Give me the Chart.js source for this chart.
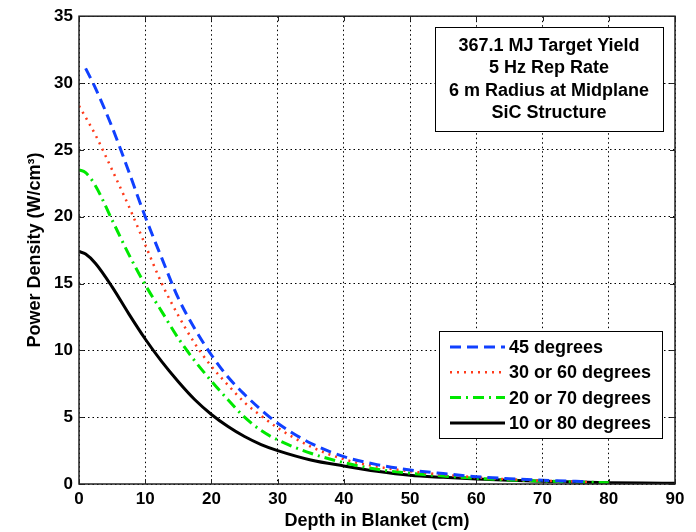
<!DOCTYPE html>
<html>
<head>
<meta charset="utf-8">
<script src="https://cdn.jsdelivr.net/npm/chart.js@4.4.1/dist/chart.umd.min.js"></script>
<style>
  html, body { margin: 0; padding: 0; background: #fff; }
  #wrap { width: 696px; height: 532px; }
</style>
</head>
<body>
<div id="wrap"><canvas id="powerChart" width="696" height="532"></canvas></div>
<script>
// ============================
// DATA
// ============================

const depth45 = [1, 2.5, 5, 7.5, 10, 12.5, 15, 17.5, 20, 22.5, 25, 27.5, 30, 35, 40, 45, 50, 55, 60, 65, 70, 75, 77];
const power45 = [31.1, 29.6, 26.7, 23.4, 20.0, 16.9, 13.9, 11.6, 9.65, 8.0, 6.7, 5.55, 4.55, 3.05, 2.05, 1.45, 1.05, 0.78, 0.55, 0.4, 0.28, 0.2, 0.17];

const depth30 = [0, 2.5, 5, 7.5, 10, 12.5, 15, 17.5, 20, 22.5, 25, 27.5, 30, 35, 40, 45, 50, 55, 60, 65, 70, 75, 77];
const power30 = [28.3, 26.1, 23.5, 20.8, 17.9, 15.0, 12.6, 10.5, 8.8, 7.4, 6.1, 5.1, 4.2, 2.8, 1.85, 1.3, 0.95, 0.7, 0.5, 0.35, 0.25, 0.18, 0.15];

const depth20 = [0, 1, 2.5, 5, 7.5, 10, 12.5, 15, 17.5, 20, 22.5, 25, 27.5, 30, 35, 40, 45, 50, 55, 60, 65, 70, 75, 80];
const power20 = [23.5, 23.3, 22.3, 19.75, 17.2, 14.9, 12.9, 10.9, 9.2, 7.7, 6.3, 5.0, 4.0, 3.3, 2.3, 1.6, 1.1, 0.8, 0.6, 0.42, 0.3, 0.22, 0.15, 0.1];

const depth10 = [0, 1, 2.5, 5, 7.5, 10, 12.5, 15, 17.5, 20, 22.5, 25, 27.5, 30, 35, 40, 45, 50, 55, 60, 65, 70, 75, 80, 85, 90];
const power10 = [17.4, 17.2, 16.5, 14.75, 12.75, 10.85, 9.15, 7.65, 6.3, 5.2, 4.3, 3.55, 2.95, 2.5, 1.8, 1.35, 0.95, 0.65, 0.5, 0.38, 0.28, 0.2, 0.15, 0.1, 0.07, 0.05];

const seriesLabels = ['45 degrees', '30 or 60 degrees', '20 or 70 degrees', '10 or 80 degrees'];
const infoLines = ['367.1 MJ Target Yield', '5 Hz Rep Rate', '6 m Radius at Midplane', 'SiC Structure'];

const xTicks = [0, 10, 20, 30, 40, 50, 60, 70, 80, 90];
const yTicks = [0, 5, 10, 15, 20, 25, 30, 35];

const FONT = '"Liberation Sans", Arial, sans-serif';

function pts(xs, ys) {
    return xs.map((x, i) => ({ x: x, y: ys[i] }));
}

// ============================
// PLUGIN: frame, inner ticks, text box, legend
// ============================

const decorations = {
    id: 'decorations',
    afterDatasetsDraw(chart) {
        const ctx = chart.ctx;
        const a = chart.chartArea;
        const xs = chart.scales.x, ys = chart.scales.y;

        ctx.save();
        // frame
        ctx.strokeStyle = '#222';
        ctx.lineWidth = 1.5;
        ctx.strokeRect(a.left, a.top, a.right - a.left, a.bottom - a.top);

        // inward ticks
        ctx.lineWidth = 1;
        ctx.beginPath();
        xTicks.forEach(v => {
            const px = Math.round(xs.getPixelForValue(v)) + 0.5;
            ctx.moveTo(px, a.bottom); ctx.lineTo(px, a.bottom - 5);
            ctx.moveTo(px, a.top); ctx.lineTo(px, a.top + 5);
        });
        yTicks.forEach(v => {
            const py = Math.round(ys.getPixelForValue(v)) + 0.5;
            ctx.moveTo(a.left, py); ctx.lineTo(a.left + 5, py);
            ctx.moveTo(a.right, py); ctx.lineTo(a.right - 5, py);
        });
        ctx.stroke();

        // info box
        ctx.fillStyle = '#fff';
        ctx.fillRect(435, 27, 228, 104);
        ctx.strokeStyle = '#000';
        ctx.lineWidth = 1;
        ctx.strokeRect(435.5, 27.5, 228, 104);
        ctx.fillStyle = '#000';
        ctx.font = 'bold 18px ' + FONT;
        ctx.textAlign = 'center';
        ctx.textBaseline = 'middle';
        infoLines.forEach((t, i) => {
            ctx.fillText(t, 549, 46 + i * 22.4);
        });

        // legend box
        ctx.fillStyle = '#fff';
        ctx.fillRect(439, 331, 223, 107);
        ctx.strokeRect(439.5, 331.5, 223, 107);
        ctx.textAlign = 'left';
        chart.data.datasets.forEach((ds, i) => {
            const y = 347 + i * 25.3;
            ctx.strokeStyle = ds.borderColor;
            ctx.lineWidth = ds.borderWidth;
            ctx.setLineDash(ds.borderDash || []);
            ctx.beginPath();
            ctx.moveTo(450, y);
            ctx.lineTo(505, y);
            ctx.stroke();
            ctx.setLineDash([]);
            ctx.fillStyle = '#000';
            ctx.fillText(ds.label, 509, y + 1);
        });
        ctx.restore();
    }
};

// ============================
// CHART
// ============================

new Chart(document.getElementById('powerChart'), {

type: 'line',

data: {
    datasets: [{
        label: seriesLabels[0],
        data: pts(depth45, power45),
        borderColor: '#1040ff',
        borderWidth: 3,
        borderDash: [11, 6]
    }, {
        label: seriesLabels[1],
        data: pts(depth30, power30),
        borderColor: '#ff3a1a',
        borderWidth: 2.5,
        borderDash: [2, 5]
    }, {
        label: seriesLabels[2],
        data: pts(depth20, power20),
        borderColor: '#00e800',
        borderWidth: 3,
        borderDash: [11, 5, 2, 5]
    }, {
        label: seriesLabels[3],
        data: pts(depth10, power10),
        borderColor: '#000000',
        borderWidth: 3
    }]
},

options: {
    responsive: false,
    animation: false,
    layout: { padding: { left: 24, right: 21, top: 15, bottom: 0 } },
    elements: {
        point: { radius: 0 },
        line: { cubicInterpolationMode: 'monotone', fill: false }
    },
    plugins: {
        legend: { display: false },
        tooltip: { enabled: false }
    },
    scales: {
        x: {
            type: 'linear',
            min: 0,
            max: 90,
            afterFit: s => { s.height = 48; },
            afterBuildTicks: s => { s.ticks = xTicks.map(v => ({ value: v })); },
            ticks: { color: '#000', font: { family: FONT, size: 17, weight: 'bold' }, padding: 5, maxRotation: 0 },
            grid: { color: '#000', lineWidth: 1, drawTicks: false },
            border: { display: false, dash: [1.5, 3] },
            title: {
                display: true,
                text: 'Depth in Blanket (cm)',
                color: '#000',
                font: { family: FONT, size: 18, weight: 'bold' },
                padding: { top: 2, bottom: 0 }
            }
        },
        y: {
            min: 0,
            max: 35,
            afterFit: s => { s.width = 55; },
            afterBuildTicks: s => { s.ticks = yTicks.map(v => ({ value: v })); },
            ticks: { color: '#000', font: { family: FONT, size: 17, weight: 'bold' }, padding: 6 },
            grid: { color: '#000', lineWidth: 1, drawTicks: false },
            border: { display: false, dash: [1.5, 3] },
            title: {
                display: true,
                text: 'Power Density (W/cm\u00b3)',
                color: '#000',
                font: { family: FONT, size: 18, weight: 'bold' },
                padding: { top: 0, bottom: 4 }
            }
        }
    }
},

plugins: [decorations]

});
</script>
</body>
</html>
